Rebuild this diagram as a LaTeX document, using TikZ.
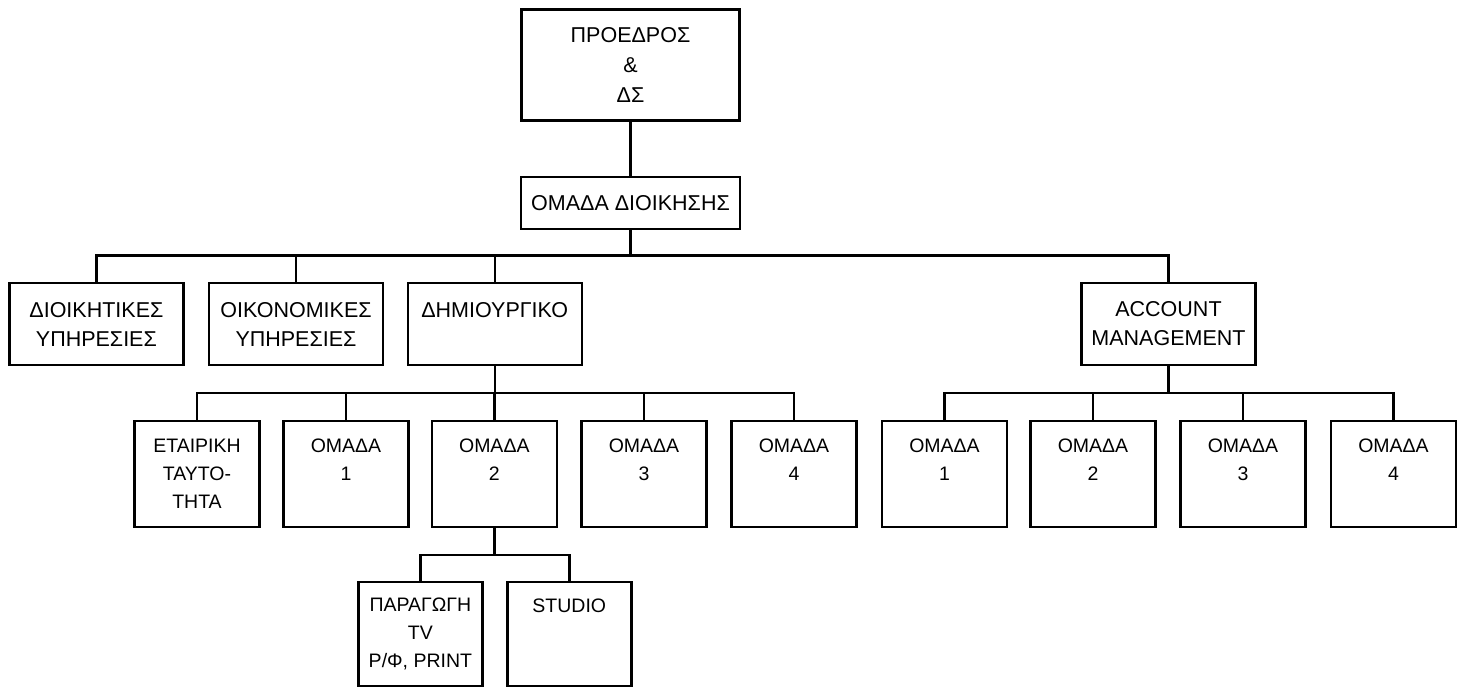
\documentclass[tikz,border=0pt]{standalone}
\usepackage{fontspec}
\setmainfont{Liberation Sans}
\begin{document}
\begin{tikzpicture}[x=1pt,y=-1pt,
  orgbox/.style={draw, line width=2.4pt, inner sep=0pt, align=center,
    font=\fontsize{19.5}{28}\selectfont},
  bigtext/.style={font=\fontsize{21.5}{29}\selectfont},
  lvtop/.style={orgbox, bigtext, minimum width=218pt, minimum height=111pt},
  lvteam/.style={orgbox, bigtext, minimum width=219pt, minimum height=52pt},
  lvtwo/.style={orgbox, bigtext, minimum width=174pt, minimum height=82pt},
  lvthree/.style={orgbox, minimum width=125pt, minimum height=106pt},
  link/.style={line width=2.4pt}]
\useasboundingbox (0,0) rectangle (1464,689);
% top
\node[lvtop, font=\fontsize{21.5}{30}\selectfont] (pres) at (630.5,65) {ΠΡΟΕΔΡΟΣ\\\&\\ΔΣ};
\node[lvteam] (team) at (630.5,203) {ΟΜΑΔΑ ΔΙΟΙΚΗΣΗΣ};
% level 2
\node[lvtwo] (dioik) at (96.4,324) {ΔΙΟΙΚΗΤΙΚΕΣ\\ΥΠΗΡΕΣΙΕΣ};
\node[lvtwo] (oikon) at (296,324) {ΟΙΚΟΝΟΜΙΚΕΣ\\ΥΠΗΡΕΣΙΕΣ};
\node[lvtwo] (dimio) at (494.7,324) {ΔΗΜΙΟΥΡΓΙΚΟ\\\mbox{}};
\node[lvtwo] (acc) at (1168.5,324) {ACCOUNT\\MANAGEMENT};
% level 3 creative
\node[lvthree] (etair) at (197,474) {ΕΤΑΙΡΙΚΗ\\ΤΑΥΤΟ-\\ΤΗΤΑ};
\node[lvthree] (cr1) at (346,474) {ΟΜΑΔΑ\\1\\\mbox{}};
\node[lvthree] (cr2) at (494.3,474) {ΟΜΑΔΑ\\2\\\mbox{}};
\node[lvthree] (cr3) at (644,474) {ΟΜΑΔΑ\\3\\\mbox{}};
\node[lvthree] (cr4) at (794,474) {ΟΜΑΔΑ\\4\\\mbox{}};
% level 3 account
\node[lvthree] (am1) at (944.5,474) {ΟΜΑΔΑ\\1\\\mbox{}};
\node[lvthree] (am2) at (1093,474) {ΟΜΑΔΑ\\2\\\mbox{}};
\node[lvthree] (am3) at (1243,474) {ΟΜΑΔΑ\\3\\\mbox{}};
\node[lvthree] (am4) at (1393.5,474) {ΟΜΑΔΑ\\4\\\mbox{}};
% level 4
\node[lvthree, minimum width=124pt, minimum height=104pt] (parag) at (420.4,634) {ΠΑΡΑΓΩΓΗ\\TV\\Ρ/Φ, PRINT};
\node[lvthree, minimum width=124pt, minimum height=104pt] (studio) at (569.3,634) {STUDIO\\\mbox{}\\\mbox{}};
% bus coordinates
\coordinate (b1) at (0,255.3);
\coordinate (b2) at (0,392.7);
\coordinate (b3) at (0,555);
% connectors
\draw[link] (pres.south) -- (team.north);
\draw[link] (team.south) -- (team.south |- b1);
\draw[link] (dioik.north) -- (dioik.north |- b1) -- (acc.north |- b1) -- (acc.north);
\draw[link] (oikon.north) -- (oikon.north |- b1);
\draw[link] (dimio.north) -- (dimio.north |- b1);
\draw[link] (dimio.south) -- (dimio.south |- b2);
\draw[link] (etair.north) -- (etair.north |- b2) -- (cr4.north |- b2) -- (cr4.north);
\draw[link] (cr1.north) -- (cr1.north |- b2);
\draw[link] (cr2.north) -- (cr2.north |- b2);
\draw[link] (cr3.north) -- (cr3.north |- b2);
\draw[link] (acc.south) -- (acc.south |- b2);
\draw[link] (am1.north) -- (am1.north |- b2) -- (am4.north |- b2) -- (am4.north);
\draw[link] (am2.north) -- (am2.north |- b2);
\draw[link] (am3.north) -- (am3.north |- b2);
\draw[link] (cr2.south) -- (cr2.south |- b3);
\draw[link] (parag.north) -- (parag.north |- b3) -- (studio.north |- b3) -- (studio.north);
\end{tikzpicture}
\end{document}
